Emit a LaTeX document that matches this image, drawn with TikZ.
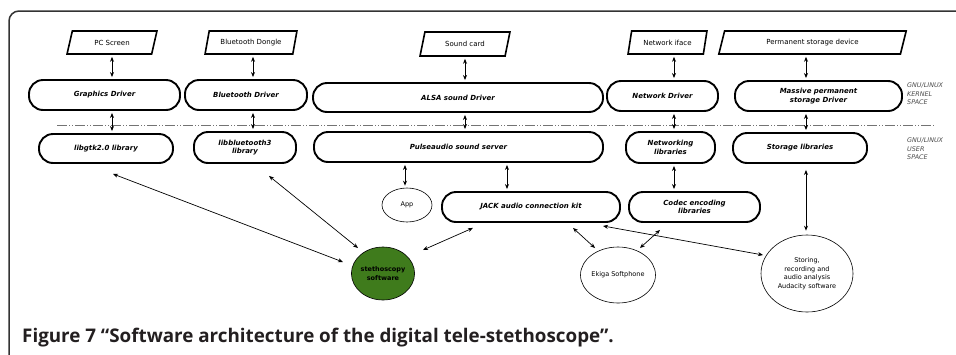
\documentclass[tikz,border=0pt]{standalone}
\usepackage{fontspec}
\newfontfamily\dv{DejaVu Sans}
\newfontfamily\capfont{Open Sans}
\usetikzlibrary{shapes.geometric,arrows.meta,calc}
\definecolor{stgreen}{HTML}{3F7B1C}
\definecolor{capcol}{HTML}{231F20}
\definecolor{framecol}{HTML}{333333}
\tikzset{
  para/.style={trapezium, trapezium left angle=66, trapezium right angle=114,
    trapezium stretches=true, draw, line width=1.6pt, inner sep=0pt,
    font=\dv\fontsize{7}{8}\selectfont},
  stad/.style={rectangle, rounded corners=14pt, draw, line width=1.9pt, inner sep=0pt,
    align=center, font=\dv\bfseries\itshape\fontsize{7}{8.5}\selectfont},
  ell/.style={ellipse, draw, line width=0.6pt, inner sep=0pt, align=center,
    font=\dv\fontsize{6.5}{8.5}\selectfont},
  arr/.style={{Stealth[length=5pt,width=4pt]}-{Stealth[length=5pt,width=4pt]}, line width=0.7pt},
  varr/.style={arr, line width=0.9pt, shorten <=2pt, shorten >=2pt},
  sidelbl/.style={anchor=north west, align=left, text=black!70, inner sep=0pt,
    font=\dv\itshape\fontsize{6.4}{8.5}\selectfont}
}
\begin{document}
\begin{tikzpicture}[x=1pt,y=-1pt]
\useasboundingbox (0,0) rectangle (956,354);
\clip (0,0) rectangle (956,354);
\fill[white] (0,0) rectangle (956,354);
\draw[framecol, line width=1.5pt, rounded corners=10pt] (9,11) rectangle (990,400);

% separator
\draw[black!55, line width=0.8pt, dash pattern=on 10pt off 2pt on 1pt off 2pt on 1pt off 2pt] (57,125) -- (935,125);

% hardware
\node[para, minimum width=90pt, minimum height=23pt] (pc) at (112,42.5) {PC Screen};
\node[para, minimum width=92pt, minimum height=23pt] (dongle) at (251,42.5) {Bluetooth Dongle};
\node[para, minimum width=90pt, minimum height=24pt] (sc) at (465,44) {Sound card};
\node[para, minimum width=79pt, minimum height=23pt] (ni) at (667.5,42.5) {Network iface};
\node[para, minimum width=189pt, minimum height=23pt] (psd) at (812.5,42.5) {Permanent storage device};

% drivers
\node[stad, minimum width=151pt, minimum height=30pt] (gd) at (104.5,95) {Graphics Driver};
\node[stad, minimum width=122pt, minimum height=30pt] (bd) at (246,95) {Bluetooth Driver};
\node[stad, minimum width=290pt, minimum height=29pt] (alsa) at (458,97.5) {ALSA sound Driver};
\node[stad, minimum width=111pt, minimum height=30pt] (nd) at (662.5,96) {Network Driver};
\node[stad, minimum width=167pt, minimum height=30pt] (msd) at (818.5,96) {Massive permanent\\storage Driver};

% libraries
\node[stad, minimum width=134pt, minimum height=29pt] (gtk) at (106,148.5) {libgtk2.0 library};
\node[stad, minimum width=102pt, minimum height=31pt] (bt3) at (245,147.5) {libbluetooth3\\library};
\node[stad, minimum width=289pt, minimum height=30pt] (pulse) at (458.5,147) {Pulseaudio sound server};
\node[stad, minimum width=89pt, minimum height=31pt] (netl) at (670.5,147.5) {Networking\\libraries};
\node[stad, minimum width=134pt, minimum height=30pt] (stl) at (800,148) {Storage libraries};

% lower row
\node[ell, minimum width=50pt, minimum height=34pt] (app) at (407,205) {App};
\node[stad, minimum width=178pt, minimum height=30pt] (jack) at (531,207) {JACK audio connection kit};
\node[stad, minimum width=131pt, minimum height=30pt] (codec) at (694.5,207) {Codec encoding\\libraries};
\node[ell, fill=stgreen, minimum width=60pt, minimum height=53pt,
      font=\dv\bfseries\fontsize{6.5}{8.5}\selectfont] (steth) at (383,273.5) {stethoscopy\\software};
\node[ell, minimum width=72pt, minimum height=56pt] (ekiga) at (618,275) {Ekiga Softphone};
\node[ell, minimum width=92pt, minimum height=77pt] (stor) at (807,273.5) {Storing,\\recording and\\audio analysis\\Audacity software};

% side labels
\node[sidelbl] (kern) at (907,83) {GNU/LINUX\\KERNEL\\SPACE};
\node[sidelbl] (user) at (907,138) {GNU/LINUX\\USER\\SPACE};

% vertical arrows
\draw[varr] (pc.south) -- (pc.south |- gd.north);
\draw[varr] (pc.south |- gd.south) -- (pc.south |- gtk.north);
\draw[varr] ([xshift=2pt]dongle.south) -- ([xshift=2pt]dongle.south |- bd.north);
\draw[varr] ([xshift=2pt]dongle.south |- bd.south) -- ([xshift=2pt]dongle.south |- bt3.north);
\draw[varr] (sc.south) -- (sc.south |- alsa.north);
\draw[varr] (sc.south |- alsa.south) -- (sc.south |- pulse.north);
\draw[varr] ([xshift=6.5pt]ni.south) -- ([xshift=6.5pt]ni.south |- nd.north);
\draw[varr] ([xshift=6.5pt]ni.south |- nd.south) -- ([xshift=6.5pt]ni.south |- netl.north);
\draw[varr] ([xshift=-6.5pt]psd.south) -- ([xshift=-6.5pt]psd.south |- msd.north);
\draw[varr] ([xshift=-6.5pt]psd.south |- msd.south) -- ([xshift=-6.5pt]psd.south |- stl.north);
\draw[varr] ([xshift=-2pt]app.north |- pulse.south) -- ([xshift=-2pt]app.north);
\draw[varr] ([xshift=-24pt]jack.north |- pulse.south) -- ([xshift=-24pt]jack.north);
\draw[varr] ([xshift=3.5pt]netl.south) -- ([xshift=3.5pt]netl.south |- codec.north);
\draw[varr, shorten <=6pt, shorten >=4pt] ([xshift=-1pt]stor.north |- stl.south) -- ([xshift=-1pt]stor.north);

% diagonal arrows
\draw[arr] ($(gtk.south)+(7,10)$) -- ($(steth)+(-40,-11.5)$);
\draw[arr] ($(bt3.south)+(24,12)$) -- ($(steth)+(-25,-25.5)$);
\draw[arr] ($(steth)+(40,-23.5)$) -- ($(jack.south)+(-58,5)$);
\draw[arr] ($(jack.south)+(42,5)$) -- ($(ekiga)+(-23,-27)$);
\draw[arr] ($(codec.south)+(-34.5,7)$) -- ($(ekiga)+(22,-27)$);
\draw[arr] ($(jack.south)+(72,3)$) -- ($(stor)+(-44,-18.5)$);

% caption
\node[anchor=base west, inner sep=0pt, text=capcol, font=\capfont\bfseries\fontsize{18.8}{20}\selectfont] (cap) at (22,342)
  {Figure 7 “Software architecture of the digital tele-stethoscope”.};
\end{tikzpicture}
\end{document}
